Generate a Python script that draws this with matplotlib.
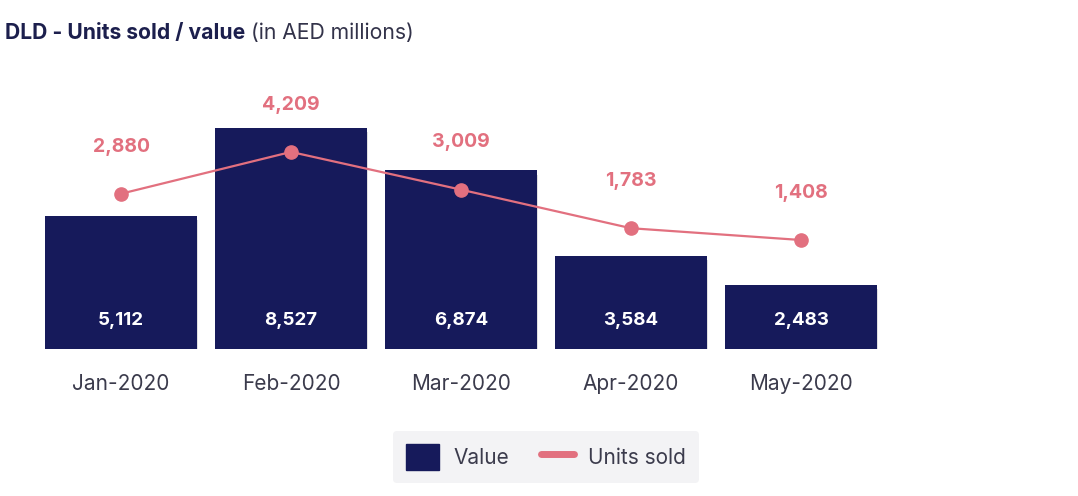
import matplotlib.pyplot as plt
import matplotlib.patheffects as pe
from matplotlib.patches import Patch
from matplotlib.lines import Line2D

# data
months = ['Jan-2020', 'Feb-2020', 'Mar-2020', 'Apr-2020', 'May-2020']
value = [5112, 8527, 6874, 3584, 2483]
units_sold = [2880, 4209, 3009, 1783, 1408]

navy = '#161a5b'
pink = '#e2707f'
grey = '#3b3b4c'

plt.rcParams['font.family'] = ['Inter', 'DejaVu Sans']

W, H = 1078, 496
fig = plt.figure(figsize=(W / 100, H / 100), dpi=100)
# axes placed in pixel terms: x from 36 to 886, bottom at 349 from top
ax = fig.add_axes([36 / W, (H - 349) / H, 850 / W, 259.7 / H])
ax2 = ax.twinx()

x = range(len(months))
bars = ax.bar(x, value, width=0.894, color=navy, zorder=2)
for b in bars:
    b.set_path_effects([pe.SimplePatchShadow(offset=(1, -3), shadow_rgbFace='#000000', alpha=0.12),
                        pe.Normal()])
ax.set_xlim(-0.5, 4.5)
ax.set_ylim(0, 10000)
for i, v in enumerate(value):
    ax.text(i, 1100, f'{v:,}', ha='center', va='center', color='white',
            fontsize=13.5, fontweight='bold')

ax2.plot(x, units_sold, color=pink, lw=1.6, marker='o', markersize=9.5, zorder=3)
ax2.set_ylim(-2058, 6201)
for i, u in enumerate(units_sold):
    ax2.annotate(f'{u:,}', (i, u), xytext=(0, 34), textcoords='offset points',
                 ha='center', va='center', color=pink, fontsize=14, fontweight='bold')

for a in (ax, ax2):
    for s in a.spines.values():
        s.set_visible(False)
    a.set_yticks([])
ax.set_xticks(list(x))
ax.set_xticklabels(months, fontsize=15, color=grey)
ax.tick_params(axis='x', length=0, pad=18)

# title in two parts
t1 = fig.text(5 / W, 1 - 33 / H, 'DLD - Units sold / value', fontsize=15.2,
              fontweight='bold', color='#1c1f4d', va='center', ha='left')
fig.canvas.draw()
bb = t1.get_window_extent()
fig.text((bb.x1 + 6) / W, 1 - 33 / H, '(in AED millions)', fontsize=15.2,
         color='#33334a', va='center', ha='left')

handles = [Patch(facecolor=navy, edgecolor=navy),
           Line2D([0], [0], color=pink, lw=5, solid_capstyle='round')]
leg = fig.legend(handles, ['Value', 'Units sold'], loc='center',
                 bbox_to_anchor=(546 / W, 1 - 457 / H), ncol=2, fontsize=15,
                 frameon=True, fancybox=True, handlelength=1.6, handleheight=1.6,
                 columnspacing=1.5, handletextpad=0.7, borderpad=0.6)
leg.get_frame().set_facecolor('#f3f3f5')
leg.get_frame().set_edgecolor('none')
leg.get_frame().set_alpha(1)
for t in leg.get_texts():
    t.set_color(grey)

fig.savefig('out.png', dpi=100)
